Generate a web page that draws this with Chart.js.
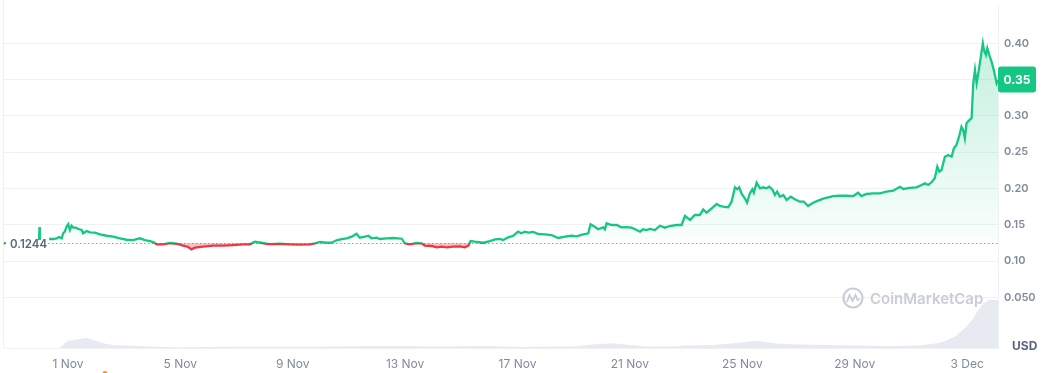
<!DOCTYPE html>
<html>
<head>
<meta charset="utf-8">
<script src="https://cdn.jsdelivr.net/npm/chart.js@4.4.1/dist/chart.umd.min.js"></script>
<style>
  html, body { margin: 0; padding: 0; background: #fff; }
  #wrap { width: 1045px; height: 373px; position: relative; }
</style>
</head>
<body>
<div id="wrap"><canvas id="priceChart"></canvas></div>
<script>
// ===== Data (days counted from 1 Nov, price in USD) =====
const priceDays = [
  -2.28, -2.21, -2.0, -1.03, -1.01, -1.00, -0.85,
  -0.67, -0.52, -0.40, -0.31, -0.22, -0.17, -0.11, -0.05, 0.01, 0.07, 0.13, 0.19, 0.28, 0.37,
  0.49, 0.54, 0.67, 0.78, 0.96, 1.14, 1.38, 1.61, 1.85, 2.09, 2.32, 2.56, 2.74, 2.92, 3.06,
  3.16, 3.39, 3.63, 3.87, 4.10, 4.28, 4.40, 4.52, 4.81, 5.17, 5.53, 5.88, 6.24, 6.48, 6.65,
  6.83, 7.07, 7.19, 7.54, 7.90, 8.26, 8.61, 8.79, 8.97, 9.21, 9.38, 9.56, 9.74, 9.92, 10.10,
  10.27, 10.39, 10.57, 10.69, 10.81, 10.99, 11.10, 11.34, 11.58, 11.88, 11.99, 12.17, 12.41,
  12.59, 12.70, 12.94, 13.12, 13.30, 13.48, 13.71, 13.95, 14.13, 14.25, 14.33, 14.48, 14.78,
  15.02, 15.20, 15.37, 15.49, 15.67, 15.85, 16.02, 16.14, 16.26, 16.38, 16.56, 16.74, 16.98,
  17.21, 17.45, 17.69, 17.92, 18.10, 18.34, 18.52, 18.60, 18.75, 18.87, 19.05, 19.11, 19.17,
  19.35, 19.53, 19.70, 19.88, 20.06, 20.24, 20.36, 20.47, 20.59, 20.71, 20.89, 21.07, 21.25,
  21.42, 21.66, 21.84, 21.96, 22.14, 22.31, 22.49, 22.61, 22.73, 22.91, 23.09, 23.20, 23.32,
  23.50, 23.62, 23.74, 23.82, 23.89, 23.98, 24.09, 24.17, 24.27, 24.36, 24.41, 24.51, 24.63,
  24.74, 24.86, 24.96, 25.08, 25.16, 25.24, 25.34, 25.46, 25.58, 25.72, 25.87, 26.05, 26.19,
  26.34, 26.52, 26.70, 26.88, 27.06, 27.23, 27.47, 27.71, 27.95, 28.12, 28.24, 28.42, 28.66,
  28.90, 29.13, 29.37, 29.61, 29.73, 29.96, 30.20, 30.38, 30.50, 30.62, 30.74, 30.85, 30.94,
  31.01, 31.09, 31.21, 31.33, 31.45, 31.53, 31.62, 31.72, 31.80, 31.86, 31.92, 31.98, 32.08,
  32.16, 32.22, 32.28, 32.34, 32.40, 32.49, 32.56, 32.60, 32.67, 32.72, 32.79, 32.87, 32.95,
  33.05, 33.10
];
const prices = [
  0.1248, 0.1244, null, 0.1289, 0.1468, 0.1289, null,
  0.1303, 0.1303, 0.1313, 0.1331, 0.1313, 0.1382, 0.1404, 0.1472, 0.1506, 0.1427, 0.1486, 0.1459, 0.1459, 0.1441,
  0.1427, 0.1382, 0.1413, 0.1395, 0.1390, 0.1368, 0.1348, 0.1335, 0.1313, 0.1293, 0.1289, 0.1313, 0.1289, 0.1275, 0.1258,
  0.1230, 0.1230, 0.1248, 0.1238, 0.1211, 0.1193, 0.1161, 0.1183, 0.1197, 0.1211, 0.1211, 0.1220, 0.1230, 0.1230, 0.1266,
  0.1255, 0.1238, 0.1234, 0.1238, 0.1230, 0.1225, 0.1230, 0.1244, 0.1262, 0.1252, 0.1252, 0.1285, 0.1303, 0.1313, 0.1335,
  0.1376, 0.1321, 0.1335, 0.1348, 0.1313, 0.1321, 0.1303, 0.1313, 0.1317, 0.1307, 0.1244, 0.1230, 0.1248,
  0.1244, 0.1211, 0.1207, 0.1189, 0.1197, 0.1189, 0.1197, 0.1202, 0.1189, 0.1211, 0.1275, 0.1266, 0.1252,
  0.1275, 0.1299, 0.1303, 0.1289, 0.1326, 0.1348, 0.1404, 0.1382, 0.1404, 0.1390, 0.1399, 0.1372, 0.1368,
  0.1358, 0.1317, 0.1335, 0.1348, 0.1340, 0.1368, 0.1382, 0.1506, 0.1472, 0.1437, 0.1464, 0.1437, 0.1519,
  0.1496, 0.1496, 0.1464, 0.1468, 0.1459, 0.1427, 0.1404, 0.1437, 0.1427, 0.1441, 0.1427, 0.1486, 0.1459,
  0.1482, 0.1496, 0.1496, 0.1620, 0.1565, 0.1634, 0.1634, 0.1712, 0.1665, 0.1726, 0.1785, 0.1758, 0.1748,
  0.1740, 0.1817, 0.2015, 0.1988, 0.2015, 0.1923, 0.1864, 0.1803, 0.1933, 0.1988, 0.1941, 0.2079, 0.2001,
  0.2015, 0.2001, 0.2023, 0.1978, 0.1909, 0.1955, 0.1886, 0.1909, 0.1840, 0.1886, 0.1850, 0.1817, 0.1817,
  0.1758, 0.1803, 0.1831, 0.1858, 0.1877, 0.1895, 0.1899, 0.1899, 0.1895, 0.1941, 0.1895, 0.1923, 0.1932,
  0.1932, 0.1955, 0.1968, 0.2023, 0.1992, 0.2006, 0.2015, 0.2047, 0.2070, 0.2047, 0.2088, 0.2139, 0.2299,
  0.2230, 0.2253, 0.2437, 0.2460, 0.2437, 0.2552, 0.2598, 0.2722, 0.2850, 0.2804, 0.2690, 0.2897, 0.2942,
  0.2966, 0.3448, 0.3631, 0.3448, 0.3585, 0.3814, 0.3999, 0.3906, 0.3837, 0.3930, 0.3837, 0.3745, 0.3631,
  0.3448, 0.3493
];

// volume (relative, M USD)
const volDays = [
  -0.3, -0.1, 0, 0.5, 0.7, 1.0, 1.3, 1.6, 2.0, 2.5, 3, 4, 5, 6, 7, 8, 9, 10, 11, 12, 13, 14, 15,
  16, 17, 18, 18.7, 19.4, 20, 20.6, 21.5, 22, 23, 23.8, 24.5, 25.2, 26, 27, 28, 29, 29.6, 30.2,
  30.6, 31, 31.3, 31.6, 31.8, 32, 32.2, 32.4, 32.6, 32.8, 33.1
];
const volumes = [
  0, 5, 7, 9.5, 10, 7, 4.5, 3, 2.5, 2, 1.2, 0.8, 1, 1.2, 1.2, 1.2, 1.3, 1.8, 2, 2, 1.5, 1.8, 2,
  1, 1.3, 1.5, 3.5, 4.7, 3, 1.5, 1.5, 2.5, 3, 5, 7.3, 4.5, 3.5, 3, 2.5, 2, 2, 2.5,
  3.5, 5, 8, 12, 17, 22, 29, 38, 45, 48, 48
];

const tickDays = [0, 4, 8, 12, 16, 20, 24, 28, 32];
const tickLabels = ['1 Nov', '5 Nov', '9 Nov', '13 Nov', '17 Nov', '21 Nov', '25 Nov', '29 Nov', '3 Dec'];
const priceTicks = [0.05, 0.10, 0.15, 0.20, 0.25, 0.30, 0.35, 0.40];
const priceTickLabels = ['0.050', '0.10', '0.15', '0.20', '0.25', '0.30', '0.35', '0.40'];
const openPrice = 0.1244;
const lastPrice = 0.35;
const eventDay = 1.32;

const GREEN = '#16c784';
const RED = '#ea3943';
const FONT = 'Inter, "Noto Sans", sans-serif';

// ===== gradient split at the open price =====
function splitAt(chart, topColor, midAbove, midBelow, bottomColor) {
  const { chartArea, scales } = chart;
  if (!chartArea) return topColor;
  const y0 = scales.y.getPixelForValue(openPrice);
  let f = (y0 - chartArea.top) / (chartArea.bottom - chartArea.top);
  f = Math.min(Math.max(f, 0), 1);
  const g = chart.ctx.createLinearGradient(0, chartArea.top, 0, chartArea.bottom);
  g.addColorStop(0, topColor);
  g.addColorStop(f, midAbove);
  g.addColorStop(f, midBelow);
  g.addColorStop(1, bottomColor);
  return g;
}

// ===== extra drawing: borders, open line, badges, watermark =====
const overlay = {
  id: 'overlay',
  beforeDatasetsDraw(chart) {
    const { ctx, chartArea, scales } = chart;
    ctx.save();
    // left frame line
    ctx.strokeStyle = '#eff2f5';
    ctx.lineWidth = 1;
    ctx.beginPath();
    ctx.moveTo(chartArea.left + 0.5, 0);
    ctx.lineTo(chartArea.left + 0.5, chartArea.bottom);
    ctx.stroke();

    // watermark
    const wx = chartArea.right - 145, wy = chartArea.bottom - 50;
    ctx.strokeStyle = '#c9ced6';
    ctx.lineWidth = 2.2;
    ctx.beginPath();
    ctx.arc(wx, wy, 9.5, 0, Math.PI * 2);
    ctx.stroke();
    ctx.lineWidth = 1.8;
    ctx.beginPath();
    ctx.moveTo(wx - 6, wy + 4);
    ctx.lineTo(wx - 3.5, wy - 3);
    ctx.lineTo(wx - 0.5, wy + 3);
    ctx.lineTo(wx + 2.5, wy - 3);
    ctx.lineTo(wx + 4.5, wy + 2);
    ctx.lineTo(wx + 7, wy + 1);
    ctx.stroke();
    ctx.fillStyle = '#c9ced6';
    ctx.font = '600 15px ' + FONT;
    ctx.textAlign = 'left';
    ctx.textBaseline = 'middle';
    ctx.fillText('CoinMarketCap', wx + 17, wy + 1);

    // dotted open-price line
    const y0 = Math.round(scales.y.getPixelForValue(openPrice)) + 0.5;
    ctx.strokeStyle = '#9aa2b1';
    ctx.lineWidth = 1;
    ctx.setLineDash([1.5, 2.5]);
    ctx.beginPath();
    ctx.moveTo(chartArea.left + 45, y0);
    ctx.lineTo(chartArea.right, y0);
    ctx.stroke();
    ctx.restore();
  },
  afterDraw(chart) {
    const { ctx, chartArea, scales } = chart;
    ctx.save();
    // open price label
    const y0 = scales.y.getPixelForValue(openPrice);
    ctx.fillStyle = '#58667e';
    ctx.font = '600 11.5px ' + FONT;
    ctx.textAlign = 'left';
    ctx.textBaseline = 'middle';
    ctx.fillText(openPrice.toFixed(4), chartArea.left + 7, y0 + 1);

    // last price badge
    const yl = scales.y.getPixelForValue(lastPrice);
    const bx = chartArea.right, bw = 38, bh = 26;
    ctx.fillStyle = GREEN;
    ctx.beginPath();
    ctx.roundRect(bx, yl - bh / 2, bw, bh, 3);
    ctx.fill();
    ctx.fillStyle = '#fff';
    ctx.font = '700 12px ' + FONT;
    ctx.textAlign = 'center';
    ctx.fillText(lastPrice.toFixed(2), bx + bw / 2, yl + 1);

    // currency label
    ctx.fillStyle = '#58667e';
    ctx.font = '700 12px ' + FONT;
    ctx.textAlign = 'left';
    ctx.fillText('USD', chartArea.right + 14, chartArea.bottom - 2);

    // event marker
    ctx.fillStyle = '#f7931a';
    ctx.beginPath();
    ctx.arc(scales.x.getPixelForValue(eventDay), chart.height + 0.5, 2.5, 0, Math.PI * 2);
    ctx.fill();
    ctx.restore();
  }
};

const pricePoints = priceDays.map((d, i) => ({ x: d, y: prices[i] }));
const volPoints = volDays.map((d, i) => ({ x: d, y: volumes[i] }));

const ctx = document.getElementById('priceChart').getContext('2d');
window._priceChart = new Chart(ctx, {
  type: 'line',
  data: {
    datasets: [
      {
        label: 'Price',
        data: pricePoints,
        yAxisID: 'y',
        order: 0,
        borderWidth: 2.3,
        pointRadius: 0,
        tension: 0,
        spanGaps: false,
        borderColor: (c) => splitAt(c.chart, GREEN, GREEN, RED, RED),
        backgroundColor: (c) => splitAt(c.chart, 'rgba(22,199,132,0.30)', 'rgba(22,199,132,0.02)',
          'rgba(234,57,67,0.32)', 'rgba(234,57,67,0.32)'),
        fill: { target: { value: openPrice } }
      },
      {
        label: 'Volume',
        data: volPoints,
        yAxisID: 'yv',
        order: 1,
        borderWidth: 0,
        pointRadius: 0,
        backgroundColor: 'rgba(207,213,225,0.5)',
        fill: 'origin'
      }
    ]
  },
  options: {
    responsive: true,
    maintainAspectRatio: false,
    animation: false,
    layout: { padding: { left: 3, top: 5, right: 0, bottom: 0 } },
    plugins: { legend: { display: false }, tooltip: { enabled: false } },
    scales: {
      x: {
        type: 'linear',
        min: -2.31,
        max: 33.1,
        afterBuildTicks: (s) => { s.ticks = tickDays.map(v => ({ value: v })); },
        afterFit: (s) => { s.height = 25; s.paddingLeft = 0; s.paddingRight = 0; },
        grid: { display: false },
        border: { display: true, color: '#eff2f5' },
        ticks: {
          autoSkip: false,
          maxRotation: 0,
          padding: 1,
          color: '#808a9d',
          font: { family: FONT, size: 12 },
          callback: (v) => tickLabels[tickDays.indexOf(v)]
        }
      },
      y: {
        position: 'right',
        min: -0.0198,
        max: 0.4526,
        afterBuildTicks: (s) => { s.ticks = priceTicks.map(v => ({ value: v })); },
        afterFit: (s) => { s.width = 47; s.paddingTop = 0; s.paddingBottom = 0; },
        grid: { color: '#eff2f5', drawTicks: false },
        border: { display: true, color: '#eff2f5' },
        ticks: {
          padding: 6,
          color: '#808a9d',
          font: { family: FONT, size: 11, weight: '600' },
          callback: (v) => priceTickLabels[priceTicks.findIndex(t => Math.abs(t - v) < 1e-6)]
        }
      },
      yv: { display: false, min: 0, max: 343 }
    }
  },
  plugins: [overlay]
});
</script>
</body>
</html>
